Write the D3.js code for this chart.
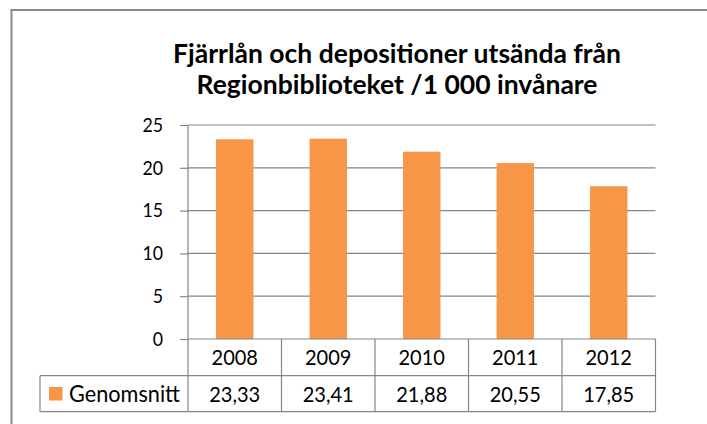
<!DOCTYPE html>
<html><head><meta charset="utf-8">
<script src="https://cdn.jsdelivr.net/npm/d3@7"></script>
<style>html,body{margin:0;padding:0;background:#fff;overflow:hidden;width:707px;height:424px}svg{display:block;position:fixed;left:0;top:0}text{font-family:Lato,"Noto Sans",sans-serif;fill:#000}</style>
</head><body><svg id="c" width="707" height="424"></svg>
<script>
const titleLines = ["Fjärrlån och depositioner utsända från", "Regionbiblioteket /1 000 invånare"];
const years = ["2008", "2009", "2010", "2011", "2012"];
const seriesName = "Genomsnitt";
const values = [23.33, 23.41, 21.88, 20.55, 17.85];
const yTicks = [0, 5, 10, 15, 20, 25];

const svg = d3.select("#c");
const W = 707, H = 424;
const plot = {left: 188, right: 655.5, top: 125, bottom: 339};
const row1Bottom = 375.7, row2Bottom = 411.7, legendLeft = 40;
const gridColor = "#868686", barColor = "#F79646";
const vStretch = 1.1;

function fitSize(weight, sample, target, base) {
  const t = svg.append("text").attr("font-size", base).attr("font-weight", weight).text(sample);
  const w = t.node().getComputedTextLength();
  t.remove();
  return base * target / w;
}
function stretch(selection) {
  selection.each(function () {
    const el = d3.select(this);
    const yy = +el.attr("y") || 0;
    el.attr("transform", `translate(0,${yy}) scale(1,${vStretch}) translate(0,${-yy})`);
  });
}

svg.append("rect").attr("x", 0).attr("y", 0).attr("width", W).attr("height", H).attr("fill", "#fff");
// outer chart border: only the left and top edges are inside the picture
svg.append("line").attr("x1", 11.5).attr("x2", 11.5).attr("y1", 9).attr("y2", H).attr("stroke", "#8a8a8a").attr("stroke-width", 2);
svg.append("line").attr("x1", 10.5).attr("x2", W).attr("y1", 10).attr("y2", 10).attr("stroke", "#8a8a8a").attr("stroke-width", 2);

const x = d3.scaleBand().domain(years).range([plot.left, plot.right]).paddingInner(0.6).paddingOuter(0.3);
const xCol = d3.scaleBand().domain(years).range([plot.left, plot.right]);
const y = d3.scaleLinear().domain([0, 25]).range([plot.bottom, plot.top]);

// title
const titleSize = fitSize(700, titleLines[0], 448, 22);
svg.append("g").selectAll("text").data(titleLines).join("text")
  .attr("x", 397).attr("y", (d, i) => 63 + i * 31)
  .attr("text-anchor", "middle").attr("font-weight", 700).attr("font-size", titleSize)
  .text(d => d);

// y axis ticks and labels
const ySize = fitSize(400, "25", 20.6, 18);
const yAxis = d3.axisLeft(y).tickValues(yTicks).tickSize(8).tickPadding(17).tickFormat(d3.format("d"));
const ga = svg.append("g").attr("transform", `translate(${plot.left},0)`).call(yAxis);
ga.select(".domain").remove();
ga.selectAll(".tick line").attr("stroke", gridColor).attr("stroke-width", 1.2);
ga.selectAll(".tick text").attr("font-size", ySize).attr("font-family", "Lato").attr("fill", "#000")
  .attr("transform", `scale(1,${vStretch})`);

// grid lines
svg.append("g").selectAll("line").data(yTicks.filter(d => d > 0)).join("line")
  .attr("x1", plot.left).attr("x2", plot.right).attr("y1", d => y(d)).attr("y2", d => y(d))
  .attr("stroke", gridColor).attr("stroke-width", 1.2);

// bars
svg.append("g").selectAll("rect").data(values).join("rect")
  .attr("x", (d, i) => x(years[i])).attr("width", x.bandwidth())
  .attr("y", d => y(d)).attr("height", d => y(0) - y(d))
  .attr("fill", barColor);

// axis line (vertical) + baseline
svg.append("line").attr("x1", plot.left).attr("x2", plot.left).attr("y1", plot.top).attr("y2", row2Bottom)
  .attr("stroke", gridColor).attr("stroke-width", 1.2);
svg.append("line").attr("x1", plot.left).attr("x2", plot.right).attr("y1", y(0)).attr("y2", y(0))
  .attr("stroke", gridColor).attr("stroke-width", 1.2);

// data table
const tb = svg.append("g").attr("stroke", gridColor).attr("stroke-width", 1.2);
tb.append("line").attr("x1", legendLeft).attr("x2", plot.right).attr("y1", row1Bottom).attr("y2", row1Bottom);
tb.append("line").attr("x1", legendLeft).attr("x2", plot.right).attr("y1", row2Bottom).attr("y2", row2Bottom);
tb.append("line").attr("x1", legendLeft).attr("x2", legendLeft).attr("y1", row1Bottom).attr("y2", row2Bottom);
tb.selectAll(".v").data(years).join("line").attr("class", "v")
  .attr("x1", d => xCol(d) + xCol.bandwidth()).attr("x2", d => xCol(d) + xCol.bandwidth())
  .attr("y1", plot.bottom).attr("y2", row2Bottom);

const locale = d3.formatLocale({decimal: ",", thousands: " ", grouping: [3], currency: ["", ""]});
const fmt = locale.format(".2f");
const tSize = fitSize(400, "2009", 46.5, 20);

const r1 = svg.append("g").selectAll("text").data(years).join("text")
  .attr("x", d => xCol(d) + xCol.bandwidth() / 2).attr("y", (plot.bottom + row1Bottom) / 2)
  .attr("dy", "0.36em").attr("text-anchor", "middle").attr("font-size", tSize).text(d => d);
const r2 = svg.append("g").selectAll("text").data(values).join("text")
  .attr("x", (d, i) => xCol(years[i]) + xCol.bandwidth() / 2).attr("y", (row1Bottom + row2Bottom) / 2)
  .attr("dy", "0.36em").attr("text-anchor", "middle").attr("font-size", tSize).text(d => fmt(d));
stretch(r1); stretch(r2);

// legend key
svg.append("rect").attr("x", 49).attr("y", 387).attr("width", 13.5).attr("height", 13.5).attr("fill", barColor);
const lg = svg.append("text").attr("x", 69).attr("y", (row1Bottom + row2Bottom) / 2).attr("dy", "0.36em")
  .attr("font-size", fitSize(400, seriesName, 111, 20)).text(seriesName);
stretch(lg);
</script></body></html>
